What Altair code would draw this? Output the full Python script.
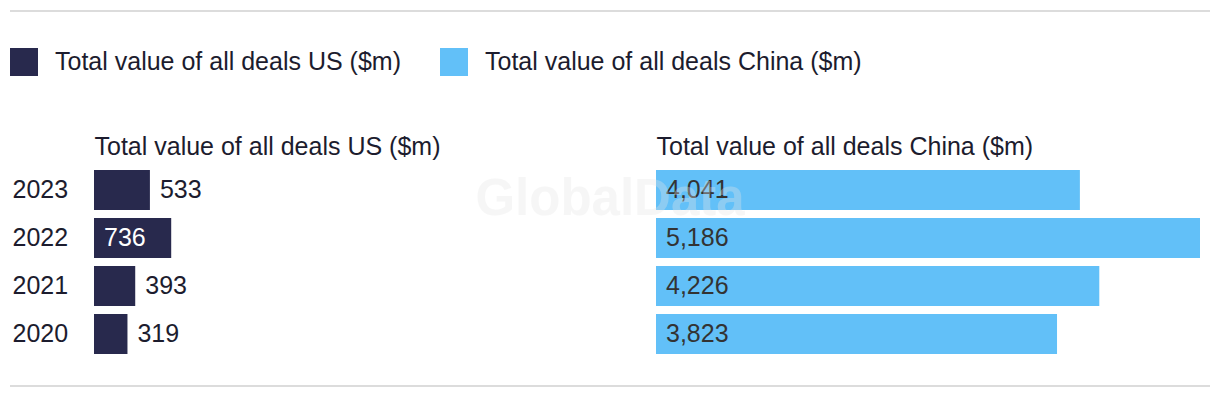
import altair as alt
import pandas as pd

years = ["2023", "2022", "2021", "2020"]
us_values = [533, 736, 393, 319]
china_values = [4041, 5186, 4226, 3823]
series_names = ["Total value of all deals US ($m)", "Total value of all deals China ($m)"]
colors = ["#28294d", "#62c0f8"]
watermark = ["GlobalData"]

FONT = "Liberation Sans"
TEXT = "#1c1c2e"
FS = 25

us_df = pd.DataFrame({"year": years, "value": us_values, "series": series_names[0]})
cn_df = pd.DataFrame({"year": years, "value": china_values, "series": series_names[1]})
wm_df = pd.DataFrame({"label": watermark})
deco_df = pd.DataFrame({"k": [0]})

xmax = max(china_values)
x_scale = alt.Scale(domain=[0, xmax], nice=False, zero=True)
y_scale = alt.Scale(paddingInner=0.1667, paddingOuter=0.0833)
color_scale = alt.Scale(domain=series_names, range=colors)

W, H = 544, 192


def x_axis(title):
    return alt.Axis(orient="top", labels=False, ticks=False, domain=False, grid=False,
                    title=title, titleAnchor="start", titleAlign="left", titleFontSize=FS,
                    titleFont=FONT, titleFontWeight="normal", titleColor=TEXT,
                    titlePadding=12, titleBaseline="alphabetic")


y_us = alt.Y("year:N", sort=years, scale=y_scale,
             axis=alt.Axis(title=None, labelAlign="left", labelPadding=82, ticks=False,
                           domain=False, labelFontSize=FS, labelColor=TEXT, labelFont=FONT))
y_cn = alt.Y("year:N", sort=years, scale=y_scale, axis=None)

ax_us = x_axis(series_names[0])
ax_cn = x_axis(series_names[1])

legend = alt.Legend(orient="none", legendX=-84, legendY=-118,
                    direction="horizontal", title=None,
                    symbolType="square", symbolSize=784,
                    symbolStrokeWidth=0, symbolOpacity=1,
                    labelFontSize=FS, labelFont=FONT, labelColor=TEXT,
                    labelOffset=17, columnPadding=39, labelLimit=0)

us_base = alt.Chart(us_df)
us_bars = us_base.mark_bar().encode(
    y=y_us,
    x=alt.X("value:Q", scale=x_scale, axis=ax_us),
    color=alt.Color("series:N", scale=color_scale, legend=legend),
)
us_inside = us_base.transform_filter("datum.value >= 600").transform_calculate(base="0").mark_text(
    align="left", baseline="middle", dx=10, fontSize=FS, font=FONT, color="white"
).encode(y=y_us, x=alt.X("base:Q", scale=x_scale, axis=ax_us), text=alt.Text("value:Q", format=","))
us_outside = us_base.transform_filter("datum.value < 600").mark_text(
    align="left", baseline="middle", dx=10, fontSize=FS, font=FONT, color=TEXT
).encode(y=y_us, x=alt.X("value:Q", scale=x_scale, axis=ax_us), text=alt.Text("value:Q", format=","))

top_rule = alt.Chart(deco_df).mark_rule(color="#dcdcdc", strokeWidth=2).encode(
    x=alt.value(-84), x2=alt.value(1116), y=alt.value(-155))
bottom_rule = alt.Chart(deco_df).mark_rule(color="#dcdcdc", strokeWidth=2).encode(
    x=alt.value(-84), x2=alt.value(1116), y=alt.value(220))

us = alt.layer(us_bars, us_inside, us_outside, top_rule, bottom_rule).properties(width=W, height=H)

cn_base = alt.Chart(cn_df)
cn_bars = cn_base.mark_bar().encode(
    y=y_cn,
    x=alt.X("value:Q", scale=x_scale, axis=ax_cn),
    color=alt.Color("series:N", scale=color_scale, legend=legend),
)
cn_text = cn_base.transform_calculate(base="0").mark_text(
    align="left", baseline="middle", dx=10, fontSize=FS, font=FONT, color="#333333"
).encode(y=y_cn, x=alt.X("base:Q", scale=x_scale, axis=ax_cn), text=alt.Text("value:Q", format=","))
wm = alt.Chart(wm_df).mark_text(
    align="center", baseline="middle", fontSize=51, font=FONT, fontWeight="bold",
    color="#e6e6e6", opacity=0.33
).encode(text="label:N", x=alt.value(-46), y=alt.value(34))

cn = alt.layer(cn_bars, cn_text, wm).properties(width=W, height=H)

chart = alt.hconcat(us, cn, spacing=18, bounds="flush").resolve_scale(
    color="shared").resolve_legend(color="shared").configure_view(
    stroke=None).properties(padding={"left": 1, "top": 2, "right": 0, "bottom": 0})

chart.save("out.html", embed_options={"renderer": "svg", "actions": False})
